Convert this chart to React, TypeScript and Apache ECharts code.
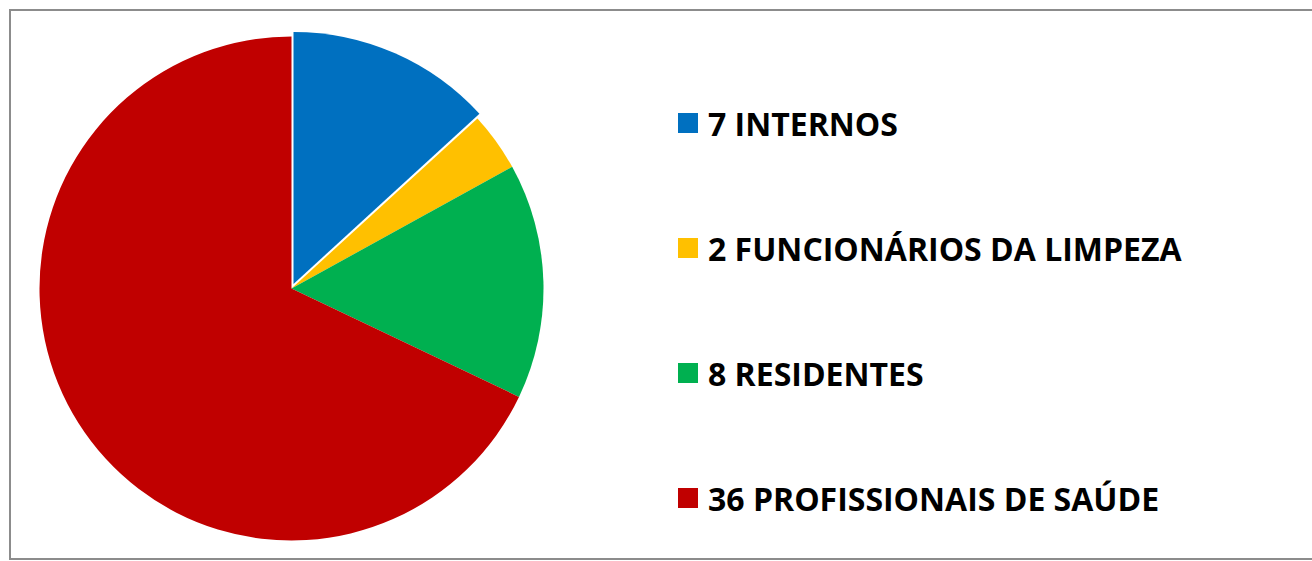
import React, { useEffect, useRef } from "react";
import * as echarts from "echarts";

const categories = ["INTERNOS", "FUNCIONÁRIOS DA LIMPEZA", "RESIDENTES", "PROFISSIONAIS DE SAÚDE"];
const values = [7, 2, 8, 36];
const colors = ["#0070C0", "#FFC000", "#00B050", "#C00000"];
const exploded = [true, false, false, false];

export default function App() {
  const ref = useRef<HTMLDivElement>(null);
  useEffect(() => {
    document.body.style.margin = "0";
    const chart = echarts.init(ref.current!, null, { renderer: "svg" });
    const names = categories.map((c, i) => `${values[i]} ${c}`);
    chart.setOption({
      animation: false,
      graphic: [
        {
          type: "rect",
          shape: { x: 10, y: 10, width: 1310, height: 549 },
          style: { fill: "none", stroke: "#8c8c8c", lineWidth: 2 },
          silent: true,
        },
      ],
      legend: {
        orient: "vertical",
        left: 678,
        top: 107,
        padding: 0,
        itemWidth: 20,
        itemHeight: 20,
        itemGap: 93,
        icon: "rect",
        selectedMode: false,
        data: names,
        textStyle: {
          fontFamily: "Open Sans",
          fontWeight: "bold",
          fontSize: 32,
          lineHeight: 32,
          color: "#000",
          padding: [0, 0, 0, 5],
        },
      },
      series: [
        {
          type: "pie",
          center: [291.5, 288.5],
          radius: 252,
          startAngle: 90,
          clockwise: true,
          selectedMode: "multiple",
          selectedOffset: 5,
          label: { show: false },
          labelLine: { show: false },
          emphasis: { disabled: true },
          data: names.map((n, i) => ({
            name: n,
            value: values[i],
            selected: exploded[i],
            itemStyle: { color: colors[i] },
          })),
        },
      ],
    });
    return () => chart.dispose();
  }, []);
  return <div ref={ref} style={{ width: 1312, height: 561 }} />;
}
